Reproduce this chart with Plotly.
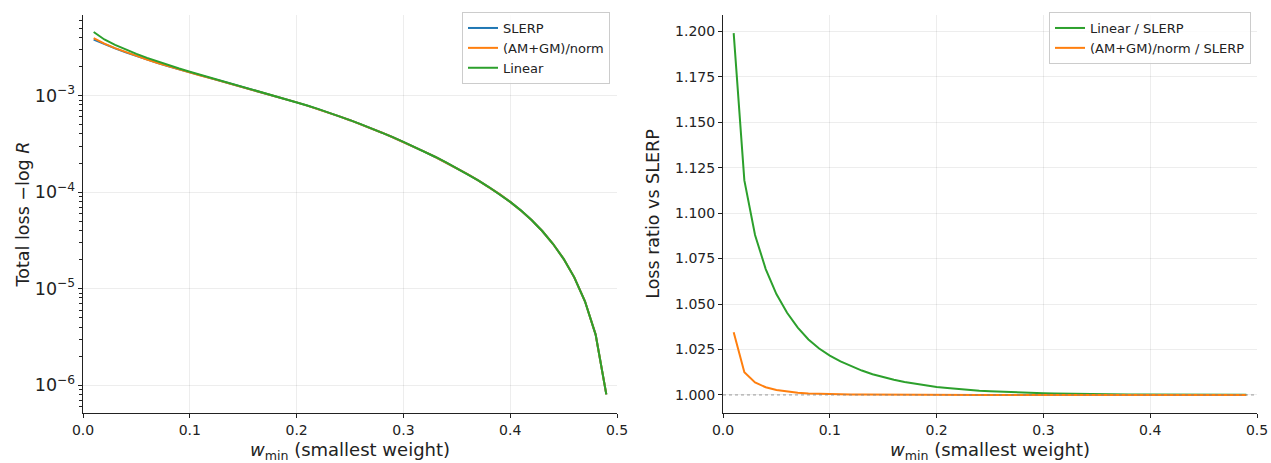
import plotly.graph_objects as go
from plotly.subplots import make_subplots

# smallest mixing weight
w_min = [0.01, 0.02, 0.03, 0.04, 0.05, 0.06, 0.07, 0.08, 0.09, 0.10,
         0.11, 0.12, 0.13, 0.14, 0.15, 0.16, 0.17, 0.18, 0.19, 0.20,
         0.21, 0.22, 0.23, 0.24, 0.25, 0.26, 0.27, 0.28, 0.29, 0.30,
         0.31, 0.32, 0.33, 0.34, 0.35, 0.36, 0.37, 0.38, 0.39, 0.40,
         0.41, 0.42, 0.43, 0.44, 0.45, 0.46, 0.47, 0.48, 0.49]

# total loss -log R of SLERP
loss_slerp = [3.802e-3, 3.412e-3, 3.083e-3, 2.805e-3, 2.564e-3, 2.355e-3, 2.173e-3, 2.009e-3, 1.862e-3, 1.730e-3,
              1.614e-3, 1.507e-3, 1.406e-3, 1.312e-3, 1.225e-3, 1.142e-3, 1.063e-3, 9.886e-4, 9.183e-4, 8.511e-4,
              7.870e-4, 7.254e-4, 6.662e-4, 6.095e-4, 5.559e-4, 5.053e-4, 4.576e-4, 4.125e-4, 3.702e-4, 3.307e-4,
              2.948e-4, 2.615e-4, 2.310e-4, 2.030e-4, 1.772e-4, 1.536e-4, 1.323e-4, 1.128e-4, 9.517e-5, 7.916e-5,
              6.463e-5, 5.134e-5, 3.950e-5, 2.914e-5, 2.035e-5, 1.308e-5, 7.387e-6, 3.338e-6, 8.008e-7]

# loss ratios relative to SLERP
ratio_linear = [1.1990, 1.1180, 1.0880, 1.0692, 1.0555, 1.0452, 1.0370, 1.0305, 1.0255, 1.0216,
                1.0184, 1.0157, 1.0134, 1.0114, 1.0097, 1.0083, 1.0071, 1.0061, 1.0052, 1.0044,
                1.0038, 1.0032, 1.0027, 1.0023, 1.0020, 1.0017, 1.00145, 1.00123, 1.00105, 1.00089,
                1.00076, 1.00064, 1.00055, 1.00047, 1.00040, 1.00034, 1.00029, 1.00024, 1.00021, 1.00018,
                1.00015, 1.00013, 1.00011, 1.00009, 1.00008, 1.00007, 1.00006, 1.00005, 1.00004]

ratio_amgm = [1.0345, 1.0125, 1.0069, 1.0042, 1.0027, 1.0018, 1.0012, 1.00081, 1.00057, 1.00041,
              1.00030, 1.00021, 1.00016, 1.00011, 1.00008, 1.00006, 1.000044, 1.000032, 1.000024, 1.000017,
              1.000013, 1.000009, 1.000007, 1.000005, 1.000004, 1.000003, 1.000002, 1.000002, 1.000002, 1.000002,
              1.000001, 1.000001, 1.000001, 1.000001, 1.000001, 1.000001, 1.000001, 1.000001, 1.000001, 1.000001,
              1.000001, 1.000001, 1.000001, 1.000001, 1.000001, 1.000001, 1.000001, 1.000001, 1.000001]

loss_amgm = [s * r for s, r in zip(loss_slerp, ratio_amgm)]
loss_linear = [s * r for s, r in zip(loss_slerp, ratio_linear)]

BLUE, ORANGE, GREEN = "#1f77b4", "#ff7f0e", "#2ca02c"
FONT = "DejaVu Sans, Liberation Sans, sans-serif"
W, H = 1271, 463
ML, MR, MT, MB = 83, 14, 13, 50
pw = W - ML - MR
ph = H - MT - MB

fig = make_subplots(rows=1, cols=2)

fig.add_trace(go.Scatter(x=w_min, y=loss_slerp, mode="lines", name="SLERP",
                         line=dict(color=BLUE, width=2), legend="legend"), 1, 1)
fig.add_trace(go.Scatter(x=w_min, y=loss_amgm, mode="lines", name="(AM+GM)/norm",
                         line=dict(color=ORANGE, width=2), legend="legend"), 1, 1)
fig.add_trace(go.Scatter(x=w_min, y=loss_linear, mode="lines", name="Linear",
                         line=dict(color=GREEN, width=2), legend="legend"), 1, 1)

fig.add_trace(go.Scatter(x=w_min, y=ratio_linear, mode="lines", name="Linear / SLERP",
                         line=dict(color=GREEN, width=2), legend="legend2"), 1, 2)
fig.add_trace(go.Scatter(x=w_min, y=ratio_amgm, mode="lines", name="(AM+GM)/norm / SLERP",
                         line=dict(color=ORANGE, width=2), legend="legend2"), 1, 2)

# reference level: equal to SLERP
fig.add_shape(type="line", xref="x2 domain", yref="y2", x0=0, x1=1, y0=1.0, y1=1.0,
              line=dict(color="rgba(128,128,128,0.45)", width=1.6, dash="dot"), layer="above")

axis_common = dict(
    showline=True, linecolor="#222", linewidth=1.1, mirror=False,
    ticks="outside", ticklen=4, tickwidth=1, tickcolor="#222",
    showgrid=True, gridcolor="rgba(0,0,0,0.07)", gridwidth=1,
    zeroline=False, automargin=False,
    tickfont=dict(family=FONT, size=14, color="#222"),
)
xtitle = "<i>w</i><sub>min</sub> (smallest weight)"

fig.update_xaxes(**axis_common)
fig.update_yaxes(**axis_common)

legend_common = dict(
    yanchor="top", xanchor="right", y=1 + 3 / ph,
    bgcolor="rgba(255,255,255,0.8)", bordercolor="#cccccc", borderwidth=1,
    font=dict(family=FONT, size=13, color="#222"), itemwidth=30, tracegroupgap=0,
)

fig.update_layout(
    width=W, height=H,
    margin=dict(l=ML, r=MR, t=MT, b=MB),
    paper_bgcolor="white", plot_bgcolor="white",
    font=dict(family=FONT, size=14, color="#222"),
    xaxis=dict(domain=[0, 534 / pw], range=[0, 0.5], dtick=0.1, tickformat=".1f",
               title=dict(text=xtitle, font=dict(size=18), standoff=12)),
    xaxis2=dict(domain=[(723 - ML) / pw, 1], range=[0, 0.5], dtick=0.1, tickformat=".1f",
                title=dict(text=xtitle, font=dict(size=18), standoff=12)),
    yaxis=dict(type="log", range=[-6.289, -2.165], dtick=1, exponentformat="power",
               minor=dict(ticks="outside", ticklen=2.5, tickcolor="#222", showgrid=False),
               title=dict(text="Total loss \u2212log <i>R</i>", font=dict(size=17.5), standoff=0)),
    yaxis2=dict(range=[0.99005, 1.2090], dtick=0.025, tickformat=".3f",
                title=dict(text="Loss ratio vs SLERP", font=dict(size=17.5), standoff=10)),
    legend=dict(x=(610 - ML) / pw, **legend_common),
    legend2=dict(x=(1251 - ML) / pw, **legend_common),
)

fig.write_html("out.html")
